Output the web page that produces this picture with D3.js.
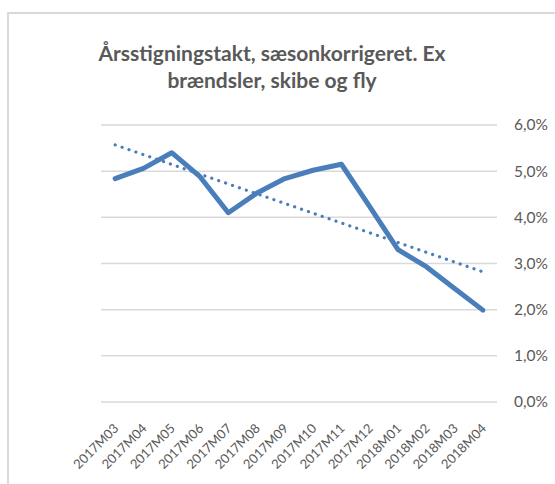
<!DOCTYPE html>
<html><head><meta charset="utf-8">
<script src="https://cdn.jsdelivr.net/npm/d3@7"></script>
<style>
html,body{margin:0;padding:0;background:#fff;}
svg{display:block;}
</style></head>
<body>
<svg id="chart" width="555" height="484"></svg>
<script>
const categories = ["2017M03","2017M04","2017M05","2017M06","2017M07","2017M08","2017M09","2017M10","2017M11","2017M12","2018M01","2018M02","2018M03","2018M04"];
const values = [4.84, 5.06, 5.40, 4.88, 4.10, 4.52, 4.84, 5.02, 5.15, 4.23, 3.30, 2.93, 2.46, 1.99];
const yTicks = [0,1,2,3,4,5,6];
const titleLines = ["Årsstigningstakt, sæsonkorrigeret. Ex", "brændsler, skibe og fly"];

const svg = d3.select("#chart");
const textColor = "#595959";
const font = "Lato, 'Liberation Sans', Arial, sans-serif";

// chart border
svg.append("rect").attr("x", 8).attr("y", 13).attr("width", 560).attr("height", 490)
  .attr("fill", "#fff").attr("stroke", "#d9d9d9").attr("stroke-width", 2);

const x = d3.scaleBand().domain(categories).range([101, 497]).paddingInner(0).paddingOuter(0);
const y = d3.scaleLinear().domain([0, 6]).range([402, 125]);
const cx = d => x(d) + x.bandwidth() / 2;

// gridlines
svg.append("g").selectAll("line").data(yTicks).join("line")
  .attr("x1", 101).attr("x2", 497).attr("y1", d => y(d)).attr("y2", d => y(d))
  .attr("stroke", "#d9d9d9").attr("stroke-width", 1.5);

// y axis labels
const yAxis = d3.axisRight(y).tickValues(yTicks).tickSize(0).tickPadding(0)
  .tickFormat(d => d3.format(".1f")(d).replace(".", ",") + "%");
const ya = svg.append("g").attr("transform", "translate(514,0)").call(yAxis);
ya.select(".domain").remove();
ya.selectAll("text").attr("fill", textColor).style("font-family", font).style("font-size", "15.5px");

// x axis labels
const xAxis = d3.axisBottom(x).tickSize(0).tickPadding(0);
const xa = svg.append("g").attr("transform", "translate(0,402)").call(xAxis);
xa.select(".domain").remove();
xa.selectAll("text")
  .attr("fill", textColor).style("font-family", font).style("font-size", "13px")
  .attr("text-anchor", "end").attr("dy", "0.35em").attr("y", 0)
  .attr("transform", "translate(1,24) rotate(-45)");

// trend line (least squares of the series)
const n = values.length;
const xm = d3.mean(values, (d, i) => i), ym = d3.mean(values);
const slope = d3.sum(values, (d, i) => (i - xm) * (d - ym)) / d3.sum(values, (d, i) => (i - xm) ** 2);
const inter = ym - slope * xm;
const trend = [0, n - 1].map(i => ({c: categories[i], v: inter + slope * i}));
svg.append("path").datum(trend)
  .attr("d", d3.line().x(d => cx(d.c)).y(d => y(d.v)))
  .attr("fill", "none").attr("stroke", "#4a7ebb").attr("stroke-width", 3.2)
  .attr("stroke-dasharray", "0.1 7.2").attr("stroke-linecap", "round");

// main line
svg.append("path").datum(values)
  .attr("d", d3.line().x((d, i) => cx(categories[i])).y(d => y(d)))
  .attr("fill", "none").attr("stroke", "#4a7ebb").attr("stroke-width", 5)
  .attr("stroke-linejoin", "round").attr("stroke-linecap", "round");

// title
svg.append("g").selectAll("text").data(titleLines).join("text")
  .attr("x", 272).attr("y", (d, i) => 61 + i * 27)
  .attr("text-anchor", "middle").attr("fill", textColor)
  .style("font-family", font).style("font-size", "21px").style("font-weight", "bold")
  .text(d => d);
</script>
</body></html>
